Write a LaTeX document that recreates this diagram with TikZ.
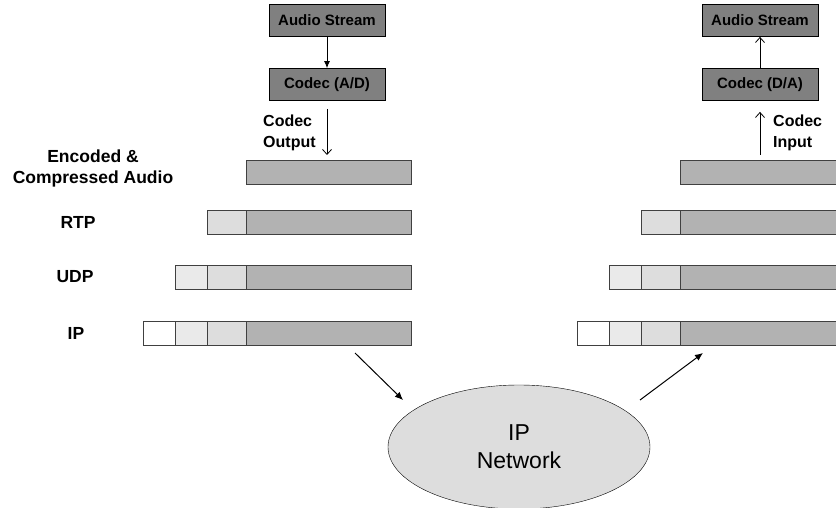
\documentclass[tikz,border=0pt]{standalone}
\usepackage{fontspec}
\setmainfont{Liberation Sans}
\usepackage{xcolor}
\usetikzlibrary{arrows.meta,shapes.geometric}
\definecolor{boxgray}{HTML}{808080}
\definecolor{paygray}{HTML}{B2B2B2}
\definecolor{rtpgray}{HTML}{DDDDDD}
\definecolor{udpgray}{HTML}{EAEAEA}
\definecolor{netgray}{HTML}{DDDDDD}

\begin{document}
\begin{tikzpicture}[x=1pt,y=-1pt,>=Stealth,
		codec/.style={draw,line width=0.8pt,fill=boxgray,minimum width=116pt,minimum height=32pt,inner sep=0pt,font=\fontsize{15}{17}\selectfont\bfseries},
		cell/.style={draw=black!75,line width=1pt,inner sep=0pt,minimum height=24pt,anchor=north west},
		lbl/.style={font=\fontsize{17.5}{21}\selectfont\bfseries,align=center},
		side/.style={font=\fontsize{16}{21}\selectfont\bfseries,align=left,inner sep=0pt,anchor=west},
		netarrow/.style={line width=1pt,-{Latex[length=8pt,width=7pt]}}]
		
		\useasboundingbox (0,0) rectangle (836,508);
		\clip (0,0) rectangle (836,508);
		
		% Sender and receiver boxes
		\node[codec] (srcL) at (327,20.5) {Audio Stream};
		\node[codec] (adc) at (327,84.5) {Codec (A/D)};
		\node[codec] (srcR) at (760,20.5) {Audio Stream};
		\node[codec] (dac) at (760,84.5) {Codec (D/A)};
		
		% Packet stacks (sender L, receiver R)
		\foreach \s/\dx in {L/0,R/434}{
			\node[cell,fill=paygray,minimum width=165pt] (enc\s) at (246+\dx,160) {};
			\node[cell,fill=rtpgray,minimum width=39pt] (rtpH\s) at (207+\dx,210) {};
			\node[cell,fill=paygray,minimum width=165pt] (rtp\s) at (246+\dx,210) {};
			\node[cell,fill=udpgray,minimum width=32pt] (udpU\s) at (175+\dx,265) {};
			\node[cell,fill=rtpgray,minimum width=39pt] (udpH\s) at (207+\dx,265) {};
			\node[cell,fill=paygray,minimum width=165pt] (udp\s) at (246+\dx,265) {};
			\node[cell,fill=white,minimum width=32pt] (ipI\s) at (143+\dx,321) {};
			\node[cell,fill=udpgray,minimum width=32pt] (ipU\s) at (175+\dx,321) {};
			\node[cell,fill=rtpgray,minimum width=39pt] (ipH\s) at (207+\dx,321) {};
			\node[cell,fill=paygray,minimum width=165pt] (ip\s) at (246+\dx,321) {};
		}
		
		% Layer labels
		\node[lbl] (encT) at (93,168) {Encoded \&\\Compressed Audio};
		\node[lbl] (rtpT) at (78,222) {RTP};
		\node[lbl] (udpT) at (75,277) {UDP};
		\node[lbl] (ipT) at (76,333) {IP};
		
		% Codec arrows
		\draw[line width=0.8pt,-{Latex[length=7pt,width=6pt]}] (srcL) -- (adc);
		\draw[line width=0.8pt,-{Straight Barb[length=5pt,width=9pt]},shorten <=8pt,shorten >=5pt] (adc.south) -- (adc.south |- encL.north);
		\node[side] (outT) at (263,133) {Codec\\Output};
		\draw[line width=0.8pt,-{Straight Barb[length=5pt,width=9pt]}] (dac) -- (srcR);
		\draw[line width=0.8pt,-{Straight Barb[length=5pt,width=9pt]},shorten <=5pt,shorten >=11pt] (dac.south |- encR.north) -- (dac.south);
		\node[side] (inT) at (773,133) {Codec\\Input};
		
		% Network
		\node[ellipse,draw,fill=netgray,minimum width=262pt,minimum height=124pt,inner sep=0pt,
		font=\fontsize{23}{28}\selectfont,align=center] (net) at (519,447) {IP\\Network};
		
		\coordinate (txA) at (355,353);
		\coordinate (txB) at (403,400);
		\coordinate (rxA) at (640,400);
		\coordinate (rxB) at (703,353);
		\draw[netarrow] (txA) -- (txB);
		\draw[netarrow] (rxA) -- (rxB);
		
\end{tikzpicture}
\end{document}
